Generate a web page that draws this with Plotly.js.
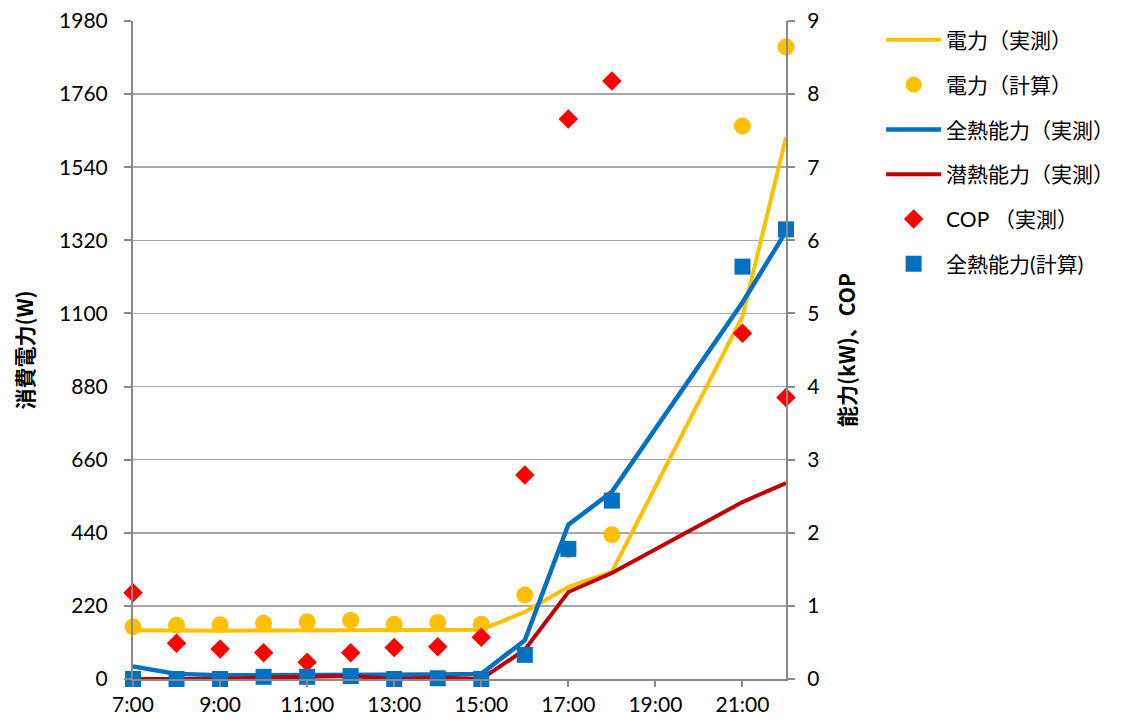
<!DOCTYPE html>
<html>
<head>
<meta charset="utf-8">
<script src="https://cdn.plot.ly/plotly-3.0.1.min.js"></script>
<style>html,body{margin:0;padding:0;background:#fff;}#chart{width:1121px;height:727px;}</style>
</head>
<body>
<div id="chart"></div>
<script>
// Hours (19:00 and 20:00 have no data)
const hours = [7, 8, 9, 10, 11, 12, 13, 14, 15, 16, 17, 18, 21, 22];
const tickHours = [7, 9, 11, 13, 15, 17, 19, 21];
const tickLabels = ["7:00", "9:00", "11:00", "13:00", "15:00", "17:00", "19:00", "21:00"];

// Left axis (W)
const powerMeasured = [147, 145, 145, 146, 147, 148, 148, 148, 148, 202, 277, 322, 1091, 1630];
const powerCalc     = [157, 162, 163, 168, 172, 177, 165, 170, 165, 253, 389, 434, 1664, 1902];

// Right axis (kW, COP)
const totalMeasured  = [0.17, 0.07, 0.05, 0.05, 0.05, 0.06, 0.05, 0.06, 0.07, 0.53, 2.11, 2.56, 5.15, 6.12];
const latentMeasured = [0.00, 0.00, 0.00, 0.02, 0.03, 0.04, 0.00, 0.02, 0.00, 0.40, 1.19, 1.45, 2.42, 2.68];
const copMeasured    = [1.18, 0.49, 0.41, 0.36, 0.23, 0.36, 0.43, 0.44, 0.57, 2.79, 7.66, 8.18, 4.73, 3.85];
const totalCalc      = [0.00, 0.00, 0.00, 0.03, 0.03, 0.04, 0.00, 0.01, 0.00, 0.33, 1.78, 2.44, 5.64, 6.15];

const names = ["電力（実測）", "電力（計算）", "全熱能力（実測）", "潜熱能力（実測）", "COP （実測）", "全熱能力(計算)"];

const YEL = "#FFC000", BLU = "#0070C0", DRED = "#C00000", RED = "#FF0000";

const traces = [
  {x: hours, y: totalMeasured, yaxis: "y2", mode: "lines", name: names[2], line: {color: BLU, width: 4.5}, legendrank: 3, legendgroup: "g3"},
  {x: hours, y: latentMeasured, yaxis: "y2", mode: "lines", name: names[3], line: {color: DRED, width: 4}, legendrank: 4, legendgroup: "g4"},
  {x: hours, y: powerMeasured, mode: "lines", name: names[0], line: {color: YEL, width: 4}, legendrank: 1, legendgroup: "g1"},
  {x: hours, y: powerCalc, mode: "markers", name: names[1], marker: {color: YEL, size: 17, symbol: "circle"}, cliponaxis: false, legendrank: 2, legendgroup: "g2"},
  {x: hours, y: copMeasured, yaxis: "y2", mode: "markers", name: names[4], marker: {color: RED, size: 15, symbol: "diamond"}, cliponaxis: false, legendrank: 5, legendgroup: "g5"},
  {x: hours, y: totalCalc, yaxis: "y2", mode: "markers", name: names[5], marker: {color: BLU, size: 16, symbol: "square"}, cliponaxis: false, legendrank: 6, legendgroup: "g6"}
];

const tickFont = {family: "Lato, 'Noto Sans CJK JP', sans-serif", size: 21, color: "#000"};
const titleFont = {family: "'Noto Sans CJK JP', sans-serif", size: 21, color: "#000", weight: "bold"};
const layout = {
  width: 1121, height: 727,
  margin: {l: 133, r: 335, t: 21, b: 48, autoexpand: false},
  paper_bgcolor: "#fff", plot_bgcolor: "#fff",
  showlegend: true,
  legend: {
    xref: "container", yref: "container",
    x: 0.786, xanchor: "left", y: 0.973, yanchor: "top",
    font: {family: "Lato, 'Noto Sans CJK JP', sans-serif", size: 21, color: "#000"},
    itemwidth: 55, tracegroupgap: 14.5, bgcolor: "rgba(0,0,0,0)"
  },
  xaxis: {
    range: [7, 22], tickvals: tickHours, ticktext: tickLabels,
    showgrid: false, zeroline: false, showline: true, linecolor: "#898989", linewidth: 2,
    ticks: "outside", ticklen: 6, tickcolor: "#898989", tickwidth: 2,
    tickfont: tickFont, fixedrange: true
  },
  yaxis: {
    range: [0, 1980], tickvals: [0,220,440,660,880,1100,1320,1540,1760,1980],
    showgrid: true, gridcolor: "#A6A6A6", gridwidth: 1.5, zeroline: false,
    showline: true, linecolor: "#898989", linewidth: 2,
    ticks: "outside", ticklen: 7, tickcolor: "#898989", tickwidth: 2,
    ticklabelstandoff: 12,
    tickfont: tickFont,
    title: {text: "消費電力(W)", font: titleFont, standoff: 20}
  },
  yaxis2: {
    range: [0, 9], dtick: 1, overlaying: "y", side: "right",
    showgrid: false, zeroline: false, showline: true, linecolor: "#898989", linewidth: 2,
    ticks: "outside", ticklen: 7, tickcolor: "#898989", tickwidth: 2,
    ticklabelstandoff: 8,
    tickfont: tickFont,
    title: {text: "能力(kW)、COP", font: titleFont, standoff: 22}
  }
};

Plotly.newPlot("chart", traces, layout, {displayModeBar: false, staticPlot: true});
</script>
</body>
</html>
